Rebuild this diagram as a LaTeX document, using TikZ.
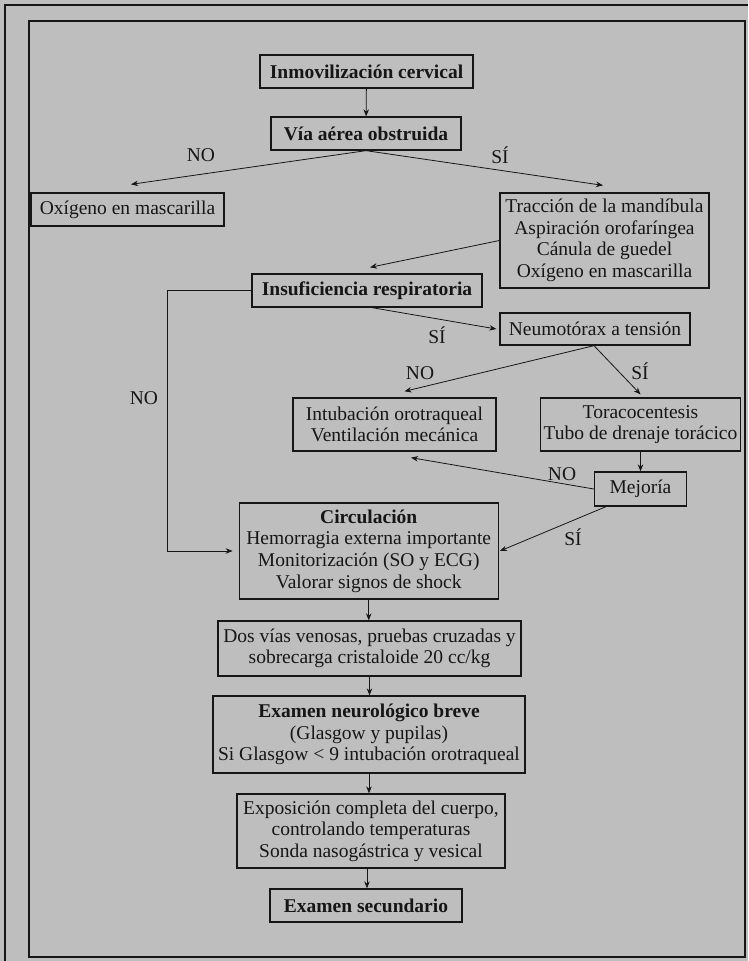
\documentclass[tikz,border=0pt]{standalone}
\usepackage{fontspec}
\setmainfont{Liberation Serif}
\usetikzlibrary{arrows.meta}
\definecolor{paper}{RGB}{190,190,190}
\definecolor{ink}{RGB}{22,22,22}

\begin{document}
\begin{tikzpicture}[x=1pt,y=-1pt,
  txt/.style={font=\fontsize{19.5}{21.6}\selectfont, text=ink},
  box/.style={txt, draw=ink, line width=1.3pt, align=center, inner sep=0pt},
  lbl/.style={txt, inner sep=0pt},
  flow/.style={draw=ink, line width=0.8pt, -{Stealth[length=7pt,width=5.5pt]}},
]
% page and frames
\fill[paper] (0,0) rectangle (748,961);
\useasboundingbox (0,0) rectangle (748,961);
\draw[ink, line width=1.5pt] (5,961) -- (5,5) -- (748,5);
\draw[ink, line width=1.5pt] (29,21) rectangle (745,957);

% steps of the protocol
\node[box, minimum width=213pt, minimum height=33pt] (inmov) at (366.5,71.5) {\textbf{Inmovilización cervical}};
\node[box, minimum width=190pt, minimum height=33pt] (via) at (366,133.5) {\textbf{Vía aérea obstruida}};
\node[box, minimum width=193pt, minimum height=33pt] (oxl) at (127.5,209.5) {Oxígeno en mascarilla};
\node[box, minimum width=209pt, minimum height=95pt] (trac) at (604.5,240.5)
  {Tracción de la mandíbula\\Aspiración orofaríngea\\Cánula de guedel\\Oxígeno en mascarilla};
\node[box, minimum width=230pt, minimum height=33pt] (insuf) at (367,290.5) {\textbf{Insuficiencia respiratoria}};
\node[box, minimum width=190pt, minimum height=32pt] (neumo) at (595,329) {Neumotórax a tensión};
\node[box, minimum width=203pt, minimum height=53pt] (intub) at (394.5,424.5)
  {Intubación orotraqueal\\Ventilación mecánica};
\node[box, minimum width=200pt, minimum height=53pt] (torac) at (640.5,424.5)
  {Toracocentesis\\Tubo de drenaje torácico};
\node[box, minimum width=92pt, minimum height=34pt] (mejoria) at (640.5,489) {Mejoría};
\node[box, minimum width=259pt, minimum height=96pt] (circ) at (368.75,551)
  {\textbf{Circulación}\\Hemorragia externa importante\\Monitorización (SO y ECG)\\Valorar signos de shock};
\node[box, minimum width=303pt, minimum height=55pt] (dos) at (369.5,648.5)
  {Dos vías venosas, pruebas cruzadas y\\sobrecarga cristaloide 20 cc/kg};
\node[box, minimum width=312pt, minimum height=77pt] (neuro) at (369,734.5)
  {\textbf{Examen neurológico breve}\\(Glasgow y pupilas)\\Si Glasgow < 9 intubación orotraqueal};
\node[box, minimum width=268pt, minimum height=74pt] (expo) at (371,831)
  {Exposición completa del cuerpo,\\controlando temperaturas\\Sonda nasogástrica y vesical};
\node[box, minimum width=192pt, minimum height=33pt] (sec) at (366,905.5) {\textbf{Examen secundario}};

% branch labels
\node[lbl] (l1) at (201,155) {NO};
\node[lbl] (l2) at (500,155) {SÍ};
\node[lbl] (l3) at (144,398) {NO};
\node[lbl] (l4) at (437,335) {SÍ};
\node[lbl] (l5) at (420,373) {NO};
\node[lbl] (l6) at (640,371) {SÍ};
\node[lbl] (l7) at (562,474) {NO};
\node[lbl] (l8) at (573,537) {SÍ};

% connectors
\draw[flow] (inmov) -- (via);
\draw[flow] (via.south) -- ([xshift=3.5pt,yshift=8pt]oxl.north);
\draw[flow] (via.south) -- ([xshift=-1.5pt,yshift=7pt]trac.north);
\draw[flow] (trac.west) -- ([xshift=3pt,yshift=6pt]insuf.north);
\draw[flow] (insuf.west) -- ++(-84,0) |- ([xshift=-6pt]circ.west);
\draw[flow] ([xshift=5pt]insuf.south) -- ([xshift=-3pt]neumo.west);
\draw[flow] ([xshift=-1pt]neumo.south) -- ([xshift=10pt,yshift=6pt]intub.north);
\draw[flow] ([xshift=-1pt]neumo.south) -- ([yshift=3pt]torac.north);
\draw[flow] (torac.south) -- (torac.south |- mejoria.north);
\draw[flow] (mejoria.west) -- ([xshift=16.5pt,yshift=-6pt]intub.south);
\draw[flow] ([xshift=-34.5pt]mejoria.south) -- ([xshift=1pt]circ.east);
\draw[flow] (circ.south) -- (circ.south |- dos.north);
\draw[flow] (dos.south) -- (dos.south |- neuro.north);
\draw[flow] (neuro.south) -- (neuro.south |- expo.north);
\draw[flow] ([xshift=-4pt]expo.south) -- ([xshift=-4pt]expo.south |- sec.north);
\end{tikzpicture}
\end{document}
